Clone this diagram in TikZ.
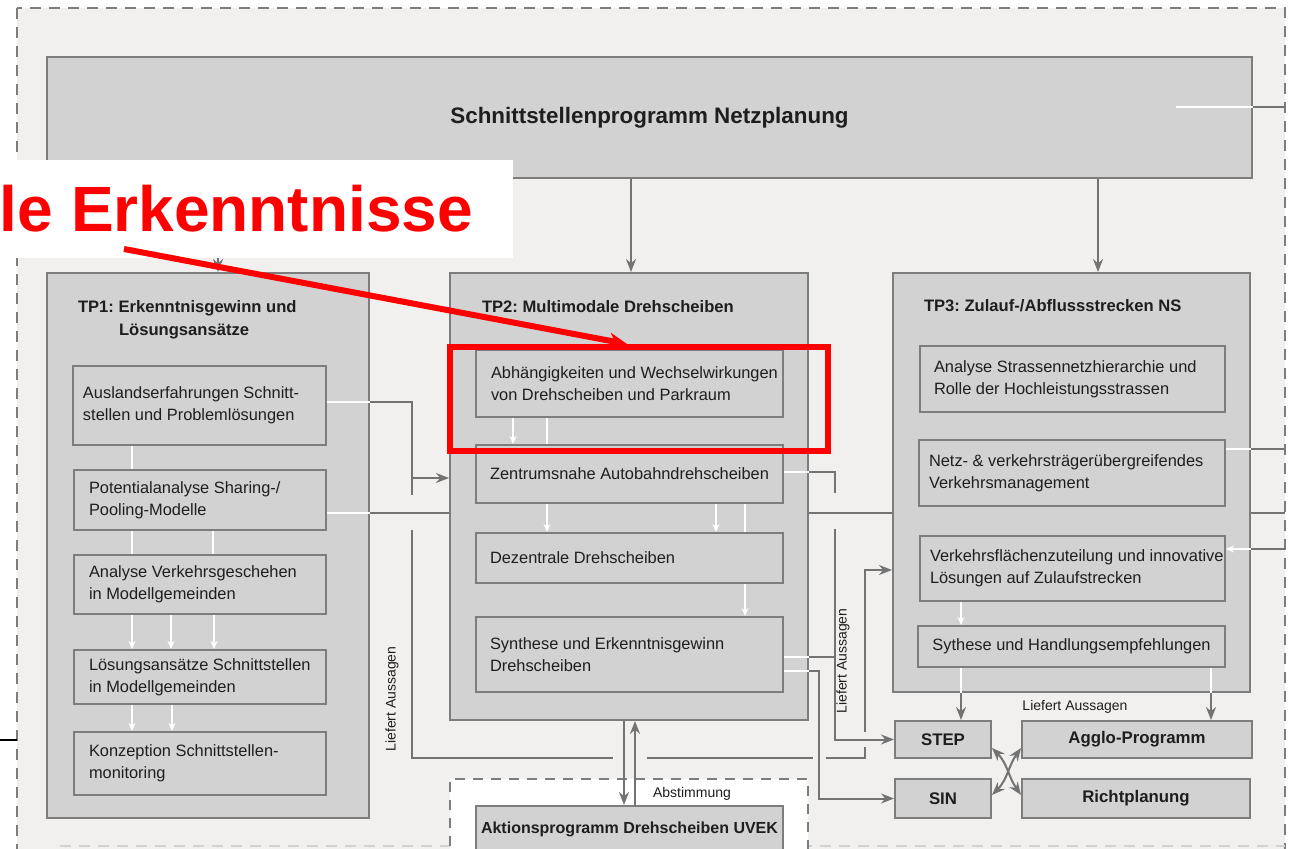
\documentclass[tikz,border=0pt]{standalone}
\usepackage{fontspec}
\setmainfont{Liberation Sans}
\usepackage{tikz}
\usetikzlibrary{arrows.meta,positioning}
\definecolor{bgpaper}{RGB}{241,240,239}
\definecolor{boxfill}{RGB}{211,210,211}
\definecolor{boxline}{RGB}{125,125,125}
\definecolor{wiregray}{RGB}{115,115,115}
\definecolor{inkgray}{RGB}{30,30,30}
\definecolor{markred}{RGB}{254,0,0}

\begin{document}
\frenchspacing
\begin{tikzpicture}[x=0.5pt,y=-0.5pt,>={Stealth[length=6.5pt,width=5pt]},line width=1pt,
                    font=\fontsize{8.2}{11}\selectfont]
  \tikzstyle{tp}=[rectangle,draw=boxline,fill=boxfill,inner sep=0pt]
  \tikzstyle{sub}=[rectangle,draw=boxline,fill=boxfill,inner sep=0pt,text=inkgray]
  \tikzstyle{txt}=[inner sep=0pt,align=left,text=inkgray]
  \tikzstyle{head}=[txt,font=\fontsize{8.3}{11.5}\selectfont\bfseries]
  \tikzstyle{note}=[inner sep=0pt,text=inkgray,font=\fontsize{7}{8}\selectfont]
  \tikzstyle{gline}=[draw=wiregray]
  \tikzstyle{garrow}=[gline,->]
  \tikzstyle{wline}=[draw=white]
  \tikzstyle{warrow}=[wline,-{Stealth[length=4pt,width=3.5pt]}]

  \useasboundingbox (0,0) rectangle (1296,849);
  \draw[draw=boxline,fill=bgpaper,dash pattern=on 5.5pt off 4pt] (17,8) rectangle (1285,880);
  \draw[boxline!35,dash pattern=on 5.5pt off 4pt] (60,846) -- (1285,846);
  \draw[black,line width=0.8pt] (0,740) -- (17,740);

  % Programm und Teilprojekte
  \node[tp,minimum width=602.5pt,minimum height=60.5pt,text=inkgray,
        font=\fontsize{11.2}{13}\selectfont\bfseries] (snp) at (649.5,117.5)
        {Schnittstellenprogramm Netzplanung};

  \node[tp,minimum width=161pt,minimum height=272.5pt] (tp1) at (208,545.5) {};
  \node[head,anchor=west] (tp1h) at (77,319.5)
        {TP1: Erkenntnisgewinn und\\\hspace*{20.5pt}Lösungsansätze};
  \node[sub,minimum width=126.5pt,minimum height=39.5pt] (a1) at (199.5,405.5) {};
  \node[sub,minimum width=126pt,minimum height=30pt] (a2) at (200,500) {};
  \node[sub,minimum width=126pt,minimum height=29.5pt] (a3) at (200,584.5) {};
  \node[sub,minimum width=126pt,minimum height=27pt] (a4) at (200,677) {};
  \node[sub,minimum width=126pt,minimum height=31.5pt] (a5) at (200,763.5) {};
  \node[txt,right=5pt of a1.west] (a1t) {Auslandserfahrungen Schnitt-\\stellen und Problemlösungen};
  \node[txt,right=7.5pt of a2.west] (a2t) {Potentialanalyse Sharing-/\\Pooling-Modelle};
  \node[txt,right=7.5pt of a3.west] (a3t) {Analyse Verkehrsgeschehen\\in Modellgemeinden};
  \node[txt,right=7.5pt of a4.west] (a4t) {Lösungsansätze Schnittstellen\\in Modellgemeinden};
  \node[txt,right=7.5pt of a5.west] (a5t) {Konzeption Schnittstellen-\\monitoring};

  \node[tp,minimum width=179pt,minimum height=223.5pt] (tp2) at (629,496.5) {};
  \node[head,anchor=west] (tp2h) at (481,307) {TP2: Multimodale Drehscheiben};
  \node[sub,minimum width=153.5pt,minimum height=33.5pt] (b1) at (629.5,383.5) {};
  \node[sub,minimum width=153.5pt,minimum height=29pt] (b2) at (629.5,474) {};
  \node[sub,minimum width=153.5pt,minimum height=25pt] (b3) at (629.5,558) {};
  \node[sub,minimum width=153.5pt,minimum height=37.5pt] (b4) at (629.5,654.5) {};
  \node[txt,right=7.5pt of b1.west] (b1t) {Abhängigkeiten und Wechselwirkungen\\von Drehscheiben und Parkraum};
  \node[txt,right=7pt of b2.west] (b2t) {Zentrumsnahe Autobahndrehscheiben};
  \node[txt,right=7pt of b3.west] (b3t) {Dezentrale Drehscheiben};
  \node[txt,right=7pt of b4.west] (b4t) {Synthese und Erkenntnisgewinn\\Drehscheiben};

  \node[tp,minimum width=178.5pt,minimum height=209.5pt] (tp3) at (1071.5,482.5) {};
  \node[head,anchor=west] (tp3h) at (923,306) {TP3: Zulauf-/Abflussstrecken NS};
  \node[sub,minimum width=152.5pt,minimum height=33pt] (c1) at (1072.5,379) {};
  \node[sub,minimum width=153pt,minimum height=33pt] (c2) at (1072,473) {};
  \node[sub,minimum width=152.5pt,minimum height=32.5pt] (c3) at (1072.5,568.5) {};
  \node[sub,minimum width=153.5pt,minimum height=20.5pt] (c4) at (1071.5,646.5)
        {Sythese und Handlungsempfehlungen};
  \node[txt,right=7pt of c1.west] (c1t) {Analyse Strassennetzhierarchie und\\Rolle der Hochleistungsstrassen};
  \node[txt,right=5pt of c2.west] (c2t) {Netz- \& verkehrsträgerübergreifendes\\Verkehrsmanagement};
  \node[txt,right=5pt of c3.west] (c3t) {Verkehrsflächenzuteilung und innovative\\Lösungen auf Zulaufstrecken};

  % Instrumente
  \tikzstyle{tool}=[sub,font=\fontsize{8.4}{10}\selectfont\bfseries]
  \node[tool,minimum width=48pt,minimum height=18.5pt] (step) at (943,739.5) {STEP};
  \node[tool,minimum width=115pt,minimum height=18.5pt] (agglo) at (1137,739.5) {Agglo-Programm};
  \node[tool,minimum width=48pt,minimum height=19.5pt] (sin) at (943,798.5) {SIN};
  \node[tool,minimum width=114pt,minimum height=19.5pt] (richt) at (1136,798.5) {Richtplanung};

  \node[draw=boxline,fill=white,dash pattern=on 5pt off 4pt,inner sep=0pt,
        minimum width=179pt,minimum height=45.5pt] (abst) at (629,824.5) {};
  \node[tool,minimum width=153.5pt,minimum height=23pt,
        font=\fontsize{8}{10}\selectfont\bfseries] (uvek) at (629.5,829)
        {Aktionsprogramm Drehscheiben UVEK};
  \node[note] (abs) at (692,794) {Abstimmung};

  % Verbindungen
  \coordinate (rside) at (1285,0);
  \coordinate (k1) at (412,495);
  \coordinate (k2) at (412,478);
  \coordinate (k3) at (412,530);
  \coordinate (k4) at (412,758);
  \coordinate (k5) at (613,758);
  \coordinate (k6) at (647,758);
  \coordinate (k7) at (813,758);
  \coordinate (k8) at (826,758);
  \coordinate (k9) at (865,758);
  \coordinate (k10) at (865,747);
  \coordinate (k11) at (865,732);
  \coordinate (k12) at (865,570);
  \coordinate (m1) at (835,493);
  \coordinate (m2) at (835,529);
  \coordinate (m3) at (819,671);

  \foreach \n/\x in {tp1/218,tp2/631,tp3/1098}
    \draw[garrow] (snp.south -| \x,0) -- (\n.north -| \x,0);
  \draw[wline] (snp.east |- 0,107) ++(-77,0) -- (snp.east |- 0,107);
  \draw[gline] (snp.east |- 0,107) -- (rside |- 0,107);

  \draw[wline] (a1.south -| 132,0) -- (a2.north -| 132,0);
  \foreach \x in {132,213} \draw[wline] (a2.south -| \x,0) -- (a3.north -| \x,0);
  \foreach \x in {132,171,214} \draw[warrow] (a3.south -| \x,0) -- (a4.north -| \x,0);
  \foreach \x in {132,172} \draw[warrow] (a4.south -| \x,0) -- (a5.north -| \x,0);

  \draw[wline] (a1.east |- 0,402) -- (tp1.east |- 0,402);
  \draw[gline] (tp1.east |- 0,402) -| (k1);
  \draw[garrow] (k2) -- (k2 -| tp2.west);
  \draw[wline] (a2.east |- 0,513) -- (tp1.east |- 0,513);
  \draw[gline] (tp1.east |- 0,513) -- (tp2.west |- 0,513);
  \draw[gline] (tp2.east |- 0,513) -- (tp3.west |- 0,513);
  \draw[gline] (tp3.east |- 0,513) -- (rside |- 0,513);
  \draw[gline] (k3) -- (k4) -- (k5);
  \draw[gline] (k6) -- (k7);
  \draw[gline] (k8) -- (k9) -- (k10);
  \draw[garrow] (k11) -- (k12) -- (k12 -| tp3.west);

  \draw[warrow] (b1.south -| 513,0) -- (b2.north -| 513,0);
  \draw[wline] (b1.south -| 547,0) -- (b2.north -| 547,0);
  \foreach \x in {547,716} \draw[warrow] (b2.south -| \x,0) -- (b3.north -| \x,0);
  \draw[wline] (b2.south -| 745,0) -- (b3.north -| 745,0);
  \draw[warrow] (b3.south -| 745,0) -- (b4.north -| 745,0);

  \draw[wline] (b2.east |- 0,472) -- (tp2.east |- 0,472);
  \draw[gline] (tp2.east |- 0,472) -| (m1);
  \draw[wline] (b4.east |- 0,657) -- (tp2.east |- 0,657);
  \draw[gline] (tp2.east |- 0,657) -- (m2 |- 0,657);
  \draw[garrow] (m2) |- (step.west);
  \draw[wline] (b4.east |- 0,671) -- (tp2.east |- 0,671);
  \draw[garrow] (tp2.east |- m3) -- (m3) |- (sin.west);

  \draw[wline] (c2.east |- 0,449) -- (tp3.east |- 0,449);
  \draw[gline] (tp3.east |- 0,449) -- (rside |- 0,449);
  \draw[gline] (rside |- 0,549) -- (tp3.east |- 0,549);
  \draw[warrow] (tp3.east |- 0,549) -- (c3.east |- 0,549);

  \draw[warrow] (c3.south -| 961,0) -- (c4.north -| 961,0);
  \draw[wline] (c4.south -| 961,0) -- (tp3.south -| 961,0);
  \draw[garrow] (tp3.south -| 961,0) -- (step.north -| 961,0);
  \draw[wline] (c4.south -| 1211,0) -- (tp3.south -| 1211,0);
  \draw[garrow] (tp3.south -| 1211,0) -- (agglo.north -| 1211,0);

  \draw[garrow] (tp2.south -| 624,0) -- (uvek.north -| 624,0);
  \draw[garrow] (uvek.north -| 635,0) -- (tp2.south -| 635,0);

  \draw[gline,<->] (step.east |- 0,748) to[out=-45,in=125] (richt.west |- 0,795);
  \draw[gline,<->] (sin.east |- 0,795) to[out=45,in=235] (agglo.west |- 0,748);

  \node[note,rotate=90] (la1) at (392,699) {Liefert Aussagen};
  \node[note,rotate=90] (la2) at (843,661) {Liefert Aussagen};
  \node[note] (la3) at (1075,707) {Liefert Aussagen};

  % Hervorhebung
  \node[fill=white,inner sep=0pt,minimum width=256.5pt,minimum height=49pt] (callout) at (256.5,209) {};
  \node[anchor=base east,inner sep=0pt,text=markred,
        font=\fontsize{32}{32}\selectfont\bfseries] (calltext) at (474,232) {le Erkenntnisse};
  \node[draw=markred,line width=3pt,inner sep=0pt,
        minimum width=189pt,minimum height=52pt] (focus) at (639,399) {};
  \draw[markred,line width=3pt,-{Stealth[length=9pt,width=8pt]}]
        (callout.south west) ++(125,-10) -- (focus.north -| 627,0);
\end{tikzpicture}
\end{document}
